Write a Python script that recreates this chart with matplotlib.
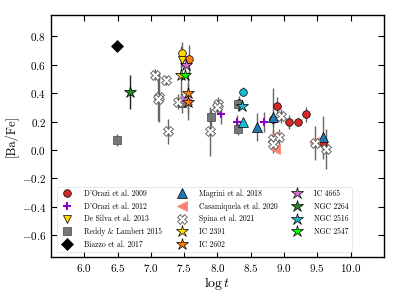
import matplotlib
matplotlib.use("Agg")
import matplotlib.pyplot as plt

plt.rcParams['font.family'] = ['cmr10', 'DejaVu Serif']
plt.rcParams['mathtext.fontset'] = 'cm'
plt.rcParams['axes.formatter.use_mathtext'] = True
plt.rcParams['axes.unicode_minus'] = True

# D'Orazi et al. 2009 (red circles)
dor09_x = [8.33, 8.90, 8.83, 9.07, 9.21, 9.33, 9.59]
dor09_y = [0.33, 0.31, 0.22, 0.195, 0.20, 0.25, 0.05]
dor09_e = [0.05, 0.06, 0.05, 0.05, 0.0, 0.05, 0.07]
# D'Orazi 2009 points coloured by cluster
dor09c_x = [7.46, 7.57, 8.38]
dor09c_y = [0.68, 0.64, 0.41]
dor09c_e = [0.08, 0.10, 0.03]
dor09c_col = ['#FFD700', '#FF7F0E', '#17BECF']
# D'Orazi et al. 2012 (purple plus)
dor12_x = [8.05, 8.30, 8.70]
dor12_y = [0.25, 0.195, 0.195]
dor12_e = [0.07, 0.05, 0.07]
# De Silva et al. 2013
des_x = [7.46]
des_y = [0.63]
des_e = [0.05]
# Reddy & Lambert 2015
red_x = [6.49, 7.46, 7.91, 8.31, 8.31]
red_y = [0.07, 0.33, 0.23, 0.32, 0.145]
red_e = [0.04, 0.07, 0.06, 0.04, 0.04]
# Biazzo et al. 2017
bia_x = [6.49]
bia_y = [0.73]
# Magrini et al. 2018
mag_x = [8.60, 8.83, 9.59]
mag_y = [0.16, 0.235, 0.09]
mag_e = [0.10, 0.20, 0.15]
magc_x = [8.38]
magc_y = [0.195]
# Casamiquela et al. 2020
cas_x = [8.85, 8.87, 9.45]
cas_y = [0.10, 0.005, 0.055]
# Spina et al. 2021
spi_x = [7.06, 7.22, 7.12, 7.10, 7.25, 7.41, 8.01, 7.99, 7.89, 8.96, 8.84, 8.92, 8.84, 9.47, 9.63]
spi_y = [0.53, 0.49, 0.37, 0.355, 0.13, 0.34, 0.32, 0.30, 0.13, 0.24, 0.08, 0.09, 0.04, 0.05, 0.005]
spi_e = [0.04, 0.03, 0.17, 0.15, 0.09, 0.05, 0.05, 0.05, 0.17, 0.05, 0.06, 0.06, 0.06, 0.12, 0.14]
spic_x = [7.50, 7.55]
spic_y = [0.355, 0.34]
# Cluster stars
ic2391_x, ic2391_y, ic2391_e = [7.45], [0.53], [0.20]
ic2602_x, ic2602_y, ic2602_e = [7.56, 7.56], [0.40, 0.34], [0.15, 0.13]
ic4665_x, ic4665_y = [7.52], [0.60]
ngc2264_x, ngc2264_y, ngc2264_e = [6.69], [0.41], [0.12]
ngc2516_x, ngc2516_y = [8.37], [0.31]
ngc2547_x, ngc2547_y = [7.51], [0.53]

xticks = [6.0, 6.5, 7.0, 7.5, 8.0, 8.5, 9.0, 9.5, 10.0]
yticks = [-0.6, -0.4, -0.2, 0.0, 0.2, 0.4, 0.6, 0.8]

fig = plt.figure(figsize=(3.99, 3.02), dpi=100)
ax = fig.add_axes([0.128, 0.150, 0.834, 0.801])

ecol = '#666666'
ekw = dict(ecolor=ecol, elinewidth=1.0, capsize=0, linestyle='none', zorder=2)

def eb(x, y, e):
    ax.errorbar(x, y, yerr=e, fmt='none', **ekw)

# error bars
for xs, ys, es in [(dor09_x, dor09_y, dor09_e), (dor09c_x, dor09c_y, dor09c_e),
                   (dor12_x, dor12_y, dor12_e), (des_x, des_y, des_e),
                   (red_x, red_y, red_e), (mag_x, mag_y, mag_e),
                   (spi_x, spi_y, spi_e), (ic2391_x, ic2391_y, ic2391_e),
                   (ic2602_x, ic2602_y, ic2602_e)]:
    eb(xs, ys, es)
ax.errorbar(ngc2264_x, ngc2264_y, yerr=ngc2264_e, fmt='none', ecolor='#222222',
            elinewidth=1.0, zorder=2)

mk = dict(linestyle='none', markeredgecolor='black', markeredgewidth=0.5, zorder=3)

h = []
h.append(ax.plot(dor09_x, dor09_y, 'o', color='#D62728', markersize=5.5, label="D'Orazi et al. 2009", **mk)[0])
for xx, yy, cc in zip(dor09c_x, dor09c_y, dor09c_col):
    ax.plot([xx], [yy], 'o', color=cc, markersize=5.5, **mk)
h.append(ax.plot(dor12_x, dor12_y, 'P', color='#8B00C9', markersize=6, markeredgewidth=0.0,
                 linestyle='none', zorder=3, label="D'Orazi et al. 2012")[0])
h.append(ax.plot(des_x, des_y, 'v', color='#FFD700', markersize=6, label="De Silva et al. 2013", **mk)[0])
h.append(ax.plot(red_x, red_y, 's', color='#777777', markersize=6, label="Reddy & Lambert 2015",
                 linestyle='none', markeredgecolor='#444444', markeredgewidth=0.5, zorder=3)[0])
h.append(ax.plot(bia_x, bia_y, 'D', color='black', markersize=6.5, label="Biazzo et al. 2017", **mk)[0])
h.append(ax.plot(mag_x, mag_y, '^', color='#1F77B4', markersize=6.5, label="Magrini et al. 2018", **mk)[0])
ax.plot(magc_x, magc_y, '^', color='#17BECF', markersize=6.5, **mk)
h.append(ax.plot(cas_x, cas_y, '<', color='#FA8072', markersize=6.5, label="Casamiquela et al. 2020",
                 linestyle='none', markeredgecolor='#FA8072', markeredgewidth=0.5, zorder=3)[0])
h.append(ax.plot(spi_x, spi_y, 'X', color='white', markersize=6.5, label="Spina et al. 2021",
                 linestyle='none', markeredgecolor='#555555', markeredgewidth=0.6, zorder=3)[0])
ax.plot(spic_x, spic_y, 'X', color='#DA70D6', markersize=6, linestyle='none',
        markeredgecolor='#888888', markeredgewidth=0.5, zorder=3)
smk = 9
h.append(ax.plot(ic2391_x, ic2391_y, '*', color='#FFD700', markersize=smk, label="IC 2391", **mk)[0])
h.append(ax.plot(ic2602_x, ic2602_y, '*', color='#FF7F0E', markersize=smk, label="IC 2602", **mk)[0])
h.append(ax.plot(ic4665_x, ic4665_y, '*', color='#DA70D6', markersize=smk, label="IC 4665", **mk)[0])
h.append(ax.plot(ngc2264_x, ngc2264_y, '*', color='#228B22', markersize=smk, label="NGC 2264", **mk)[0])
h.append(ax.plot(ngc2516_x, ngc2516_y, '*', color='#17BECF', markersize=smk, label="NGC 2516", **mk)[0])
h.append(ax.plot(ngc2547_x, ngc2547_y, '*', color='#00FF00', markersize=smk, label="NGC 2547", **mk)[0])

ax.set_xlim(5.5, 10.5)
ax.set_ylim(-0.75, 0.95)
ax.set_xticks(xticks)
ax.set_yticks(yticks)
ax.tick_params(direction='in', top=True, right=True, labelsize=8, length=4, width=0.8)
for s in ax.spines.values():
    s.set_linewidth(1.0)
ax.set_xlabel(r'$\log t$', fontsize=10, labelpad=1)
ax.set_ylabel(r'[Ba/Fe]', fontsize=9, labelpad=2)

leg = ax.legend(handles=h, ncol=3, loc='lower left', bbox_to_anchor=(0.005, 0.005),
                fontsize=5.5, frameon=True, framealpha=0.8, edgecolor='#dddddd',
                handlelength=2.0, handletextpad=1.2, columnspacing=1.6,
                labelspacing=0.55, borderpad=0.4)
leg.get_frame().set_linewidth(0.6)

fig.savefig('out.png', dpi=100)
